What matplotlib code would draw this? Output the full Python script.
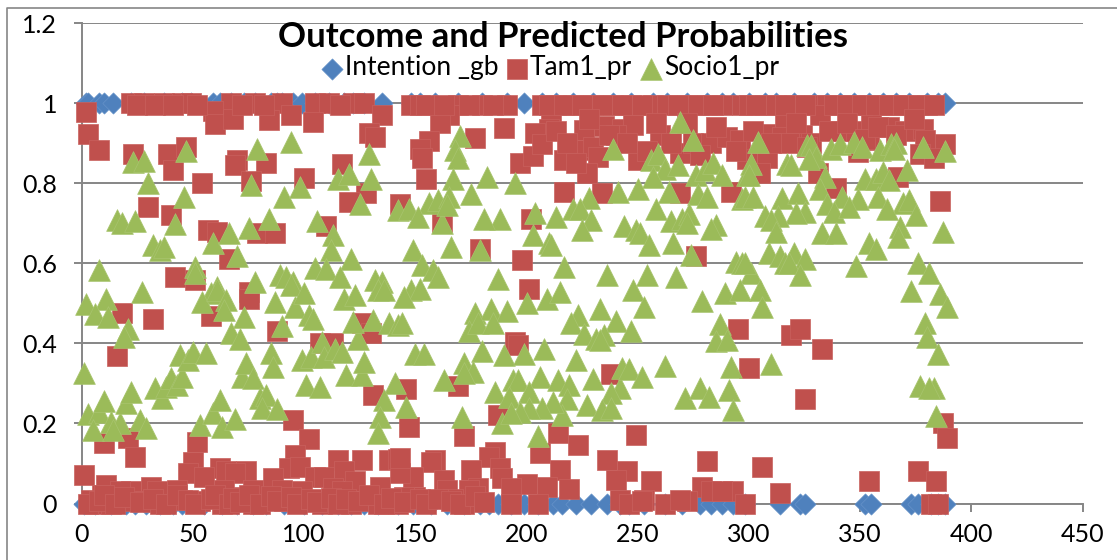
#!/usr/bin/env python3

import matplotlib
matplotlib.use('Agg')
import matplotlib.pyplot as plt
from matplotlib.lines import Line2D

# Intention _gb is only ever 0 or 1, so it is stored as two lists of case numbers
intention_one_x = [2, 3, 8, 10, 14, 22, 28, 37, 45, 49, 59, 62, 67, 73, 78, 85, 88, 90, 95,
                   99, 105, 111, 118, 122, 127, 135, 148, 152, 159, 169, 180, 191, 199, 207,
                   213, 221, 230, 239, 247, 257, 263, 272, 281, 288, 293, 300, 307, 312, 320,
                   329, 335, 341, 347, 354, 360, 366, 372, 380, 385, 388]
intention_zero_x = [1, 6, 13, 20, 24, 29, 35, 41, 45, 55, 63, 70, 77, 83, 91, 100, 108, 115,
                    121, 127, 133, 142, 149, 157, 164, 172, 179, 183, 187, 193, 199, 205, 212,
                    216, 222, 229, 236, 242, 246, 253, 262, 270, 278, 283, 288, 293, 298, 314,
                    323, 325, 352, 355, 373, 376, 382, 385, 388]

tam_x = [22, 28, 37, 45, 49, 67, 78, 90, 105, 111, 122, 127, 148, 152, 169, 180, 191, 207, 213,
         221, 230, 239, 247, 257, 263, 272, 281, 288, 297, 300, 307, 312, 320, 329, 335, 341,
         347, 354, 360, 366, 372, 380,
         2, 3, 8, 23, 39, 47, 41, 54, 30, 40, 59, 60, 68, 84, 94, 104, 135, 129, 132, 70, 69,
         83, 76, 100, 117, 128, 120, 143, 57, 61, 79, 87, 66, 110, 42, 51,
         211, 165, 161, 190, 210, 204, 177, 156, 152, 153, 197, 203, 207, 226, 235, 243, 248,
         240, 217, 223, 230, 232, 227, 222, 250, 260, 269, 275, 283, 290, 296, 155, 217, 234,
         269, 292, 202, 162, 179, 276, 198,
         332, 316, 307, 324, 315, 341, 328, 348, 354, 355, 363, 370, 378, 379, 388, 377, 383,
         308, 299, 318, 349, 305, 331, 339, 367, 386,
         18, 32, 16, 58, 75, 75, 88, 126, 130, 107, 113, 131, 95, 102, 10, 21, 24, 52, 50, 1,
         96, 93, 98, 115, 126, 138, 142, 48, 62, 65, 55, 74, 69, 86, 105, 109, 118, 123, 134,
         11, 31, 34, 43, 22, 17, 9, 4, 6, 13, 64, 77, 90, 99, 113, 117,
         3, 23, 29, 35, 45, 53, 63, 73, 77, 91, 108, 121, 133, 142,
         201, 195, 196, 295, 300, 238, 169, 146, 187, 147, 172, 249, 214, 223, 206, 281, 186,
         183, 188, 189, 159, 157, 175, 215, 236, 245, 240, 256, 279, 163, 164, 178, 174, 200,
         193, 209, 219, 149, 143, 143, 150, 145, 283, 293, 288,
         172, 193, 205, 242, 246, 253, 262, 272, 298, 252, 167, 269,
         319, 323, 333, 325, 387, 389, 306, 376, 384, 354, 314, 382, 385,
         25, 33, 41, 52, 72, 82, 116, 155, 163, 174, 185, 210, 217, 225, 234, 243, 252, 268,
         277, 284, 303, 316, 325, 338, 344, 351, 357, 363, 369, 376, 383,
         8, 10, 15, 19, 26, 32, 38, 43, 48, 51, 58, 60, 66, 68, 71, 75, 80, 85, 88, 94, 97,
         103, 106, 112, 115, 119, 124, 129, 136, 139, 145, 152, 155, 160, 166, 170, 177, 181,
         213, 218, 228, 237, 245, 254, 258, 265, 272, 278, 285, 294, 302, 310, 321, 326, 336,
         344, 352, 358, 366, 374]
tam_y = [1, 1, 1, 1, 1, 1, 1, 1, 1, 1, 1, 1, .997, .997, .997, .997, .997, .997, .997,
         .997, .997, .997, .997, .997, .997, .997, .997, .997, .997, .997, .997, .997, .997, .997, .997, .997,
         .997, .997, .997, .997, .997, .997,
         .978, .924, .884, .874, .874, .892, .834, .801, .74, .72, .982, .949, .962, .958, .97, .953, .97, .927, .916, .859, .845,
         .852, .805, .813, .849, .775, .754, .748, .683, .679, .675, .677, .612, .693, .566, .558,
         .978, .97, .952, .938, .937, .925, .914, .906, .887, .864, .852, .868, .899, .933, .943, .937, .945,
         .92, .858, .883, .891, .866, .825, .85, .858, .92, .875, .9, .9, .916, .908, .81, .779, .775,
         .775, .779, .712, .704, .637, .618, .608,
         .97, .953, .924, .92, .916, .932, .9, .932, .908, .949, .941, .932, .937, .908, .898, .873, .864,
         .864, .86, .9, .879, .825, .825, .789, .816, .756,
         .476, .46, .368, .468, .529, .512, .431, .45, .425, .4, .4, .271, .208, .16, .15, .163, .115, .154, .104, .07,
         .121, .088, .092, .108, .108, .108, .11, .075, .088, .08, .067, .08, .075, .063, .067, .067, .08, .055, .042,
         .046, .042, .03, .034, .03, .03, .021, .009, 0, 0, .034, .034, .034, .03, .038, .03,
         0, .005, .005, 0, .009, .005, 0, .017, 0, .005, 0, 0, 0, 0,
         .537, .404, .396, .437, .338, .323, .293, .285, .221, .192, .169, .171, .175, .146, .125, .106, .129,
         .117, .088, .063, .108, .104, .084, .084, .108, .082, .059, .055, .042, .059, .034, .038, .034, .049,
         .038, .04, .035, .067, .075, .113, .017, .017, .03, .032, .03,
         0, 0, 0, .009, 0, .009, 0, .005, 0, .005, .012, .008,
         .422, .437, .387, .26, .202, .164, .092, .081, .057, .056, .027, 0, 0,
         .997, .997, .997, .997, .997, .997, .997, .997, .997, .997, .997, .997, .997, .997, .997, .997, .997, .997,
         .997, .997, .997, .997, .997, .997, .997, .997, .997, .997, .997, .997, .997,
         .006, .02, 0, .016, .004, .012, 0, .02, .008, 0, .01, .02, 0, .014, .004, .02, 0, .018, .006, .016, 0,
         .012, .003, .014, 0, .012, .005, .02, 0, .014, .004, .012, 0, .012, .005, 0, .018, .004,
         .93, .9, .96, .92, .9, .88, .95, .9, .95, .87, .94, .88, .93, .9, .95, .89, .93,
         .95, .91, .94, .92, .96]

socio_x = [8, 16, 18, 24, 23, 28, 30, 46, 42, 47, 32, 35, 37, 59, 51, 51, 66, 75, 70, 84, 79, 76,
           91, 94, 98, 106, 113, 112, 121, 105, 110, 115, 120, 130, 129, 125, 142,
           78, 89, 92, 95, 61, 116, 132, 135,
           2, 11, 27, 6, 12, 21, 19, 1, 3, 8, 10, 5, 13, 17, 14, 20, 22, 26, 29,
           33, 36, 38, 40, 43, 45, 44, 48, 50, 56, 53, 59, 62, 63, 69, 72, 74, 77, 85, 86,
           80, 83, 81, 88, 101, 107, 99, 103, 108, 109, 114, 117, 119, 126, 127, 124,
           58, 54, 61, 65, 64, 73, 87, 90, 67, 71, 94, 96, 100, 102, 104, 118, 123, 122,
           131, 138, 142, 133, 136, 141, 136, 134, 133,
           170, 168, 169, 167, 182, 195, 175, 239, 256, 259, 262, 257, 268, 269, 275, 276, 280,
           284, 288, 299, 250, 241, 228, 264, 277, 281, 297, 221, 224, 213, 204, 229, 225, 188,
           181, 162, 147, 156, 160, 165, 164, 151, 258, 244, 249, 251, 255, 265, 270, 273, 272,
           285, 283, 266, 274, 203, 210, 211, 166, 179, 149, 153, 158, 160, 217, 236, 254, 267,
           294, 297, 301, 187,
           200, 209, 215, 248, 289, 296, 279, 253, 233, 223, 220, 240, 247, 226, 231, 235, 233,
           287, 285, 290, 177, 184, 191, 174, 178, 185, 144, 180, 190, 199, 208, 222, 172, 176,
           172, 163, 194, 196, 206, 214, 219, 230, 186, 192, 201, 218, 242, 238, 243, 246, 252,
           262, 271, 278, 282, 291, 292, 293, 189, 171, 205, 216, 227, 234, 238, 212, 207, 201,
           197, 193, 146, 150, 154, 148, 152, 145,
           304, 301, 300, 317, 319, 326, 328, 330, 327, 337, 341, 347, 351, 359, 364, 366, 365,
           378, 388, 334, 332, 352, 357, 360, 363, 371, 298, 302, 315, 322, 342, 349, 358, 369,
           372, 362, 375, 335, 338, 345, 325, 321, 313, 307, 310, 312, 368, 367, 333, 339, 387,
           354, 357, 309, 314, 316, 320, 325, 318, 298, 323, 348, 376, 381,
           373, 386, 389, 305, 306, 379, 380, 385, 310, 377, 383, 381, 384]
socio_y = [.583, .708, .70, .705, .853, .855, .80, .766, .698, .88, .645, .633, .641, .65, .59, .575, .677, .689, .619, .712, .887, .795,
           .766, .903, .791, .705, .672, .633, .61, .589, .587, .812, .824, .812, .873, .748, .733,
           .554, .57, .566, .554, .54, .566, .558, .554,
           .498, .51, .529, .473, .467, .437, .415, .325, .223, .229, .257, .183, .204, .202, .183, .25, .279, .209, .188,
           .288, .263, .292, .313, .296, .317, .371, .358, .379, .375, .196, .227, .258, .192, .21, .317, .35, .313, .375, .342,
           .263, .271, .238, .235, .296, .292, .358, .366, .404, .365, .385, .379, .321, .321, .354, .41,
           .525, .504, .533, .508, .483, .467, .504, .443, .425, .41, .546, .492, .525, .471, .462, .512, .521, .454,
           .458, .452, .446, .533, .533, .3, .258, .217, .175,
           .919, .883, .864, .812, .816, .802, .774, .885, .859, .874, .837, .816, .845, .953, .908, .82, .833,
           .851, .82, .82, .787, .779, .764, .779, .774, .766, .76, .737, .737, .716, .725, .708, .683, .712,
           .71, .7, .737, .75, .758, .766, .745, .716, .737, .694, .683, .675, .647, .706, .712, .723, .7,
           .695, .687, .65, .62, .67, .651, .645, .641, .633, .633, .595, .583, .566, .591, .57, .57, .566,
           .604, .6, .575, .562,
           .5, .512, .529, .533, .526, .533, .506, .491, .485, .471, .452, .455, .431, .423, .412, .421, .408,
           .448, .406, .408, .475, .487, .481, .431, .452, .452, .45, .381, .371, .373, .386, .358, .35, .328,
           .325, .308, .308, .308, .317, .308, .297, .311, .278, .267, .279, .261, .289, .277, .338, .335, .317,
           .344, .263, .288, .267, .283, .342, .233, .2, .217, .169, .221, .246, .234, .238, .254, .238, .238,
           .229, .225, .242, .373, .373, .533, .537, .516,
           .904, .849, .82, .849, .847, .895, .895, .866, .862, .887, .899, .904, .89, .883, .899, .9, .886,
           .891, .881, .816, .787, .812, .812, .828, .808, .833, .766, .766, .764, .776, .766, .76, .766, .75,
           .758, .735, .72, .748, .729, .741, .729, .725, .718, .718, .708, .679, .691, .666, .677, .677, .679,
           .651, .637, .626, .619, .6, .625, .61, .6, .6, .57, .593, .601, .575,
           .531, .523, .491, .533, .492, .451, .417, .373, .348, .293, .288, .288, .219]

x_ticks = [0, 50, 100, 150, 200, 250, 300, 350, 400, 450]
y_ticks = [0, 0.2, 0.4, 0.6, 0.8, 1, 1.2]
y_labels = ['0', '0.2', '0.4', '0.6', '0.8', '1', '1.2']

W, H = 1117, 560
GREY = '#868686'


def main():
    plt.rcParams['font.family'] = ['Lato', 'DejaVu Sans']
    fig = plt.figure(figsize=(W / 100, H / 100), dpi=100)
    ax = fig.add_axes([81.7 / W, 1 - 503.5 / H, 1001 / W, 480.2 / H])

    ax.scatter(intention_one_x + intention_zero_x,
               [1] * len(intention_one_x) + [0] * len(intention_zero_x),
               marker='D', s=118, color='#4F81BD', edgecolor='#6a96cb', linewidth=0.4,
               clip_on=False, zorder=3, label='Intention _gb')
    ax.scatter(tam_x, tam_y, marker='s', s=215, color='#C0504D', edgecolor='#c9615e',
               linewidth=0.5, clip_on=False, zorder=4, label='Tam1_pr')
    ax.scatter(socio_x, socio_y, marker='^', s=245, color='#9BBB59', edgecolor='#a8c46e',
               linewidth=0.5, clip_on=False, zorder=5, label='Socio1_pr')

    ax.set_xlim(0, 450)
    ax.set_ylim(0, 1.2)
    ax.set_xticks(x_ticks)
    ax.set_yticks(y_ticks, y_labels)
    ax.tick_params(labelsize=18, length=5.8, width=1.4, color=GREY, labelcolor='black')
    ax.tick_params(axis='x', pad=8)
    ax.tick_params(axis='y', pad=12)
    ax.grid(axis='y', color=GREY, linewidth=1.4)
    ax.set_axisbelow(True)
    for side in ['top', 'right']:
        ax.spines[side].set_visible(False)
    for side in ['left', 'bottom']:
        ax.spines[side].set_color(GREY)
        ax.spines[side].set_linewidth(1.4)

    fig.text(563 / W, 1 - 37 / H, 'Outcome and Predicted Probabilities', fontsize=25,
             fontweight='bold', ha='center', va='center', zorder=10)
    fig.legend(loc='center', bbox_to_anchor=(550 / W, 1 - 68 / H), ncol=3, frameon=False,
               fontsize=19, handletextpad=0.1, columnspacing=0.3, handlelength=0.8,
               scatterpoints=1)

    # chart area border, runs off the right and bottom of the picture
    fig.add_artist(Line2D([7 / W, 7 / W, 1], [0, 1 - 7.5 / H, 1 - 7.5 / H], color=GREY,
                          linewidth=1.2))

    fig.savefig('out.png', dpi=100)
    plt.close(fig)


if __name__ == '__main__':
    main()
